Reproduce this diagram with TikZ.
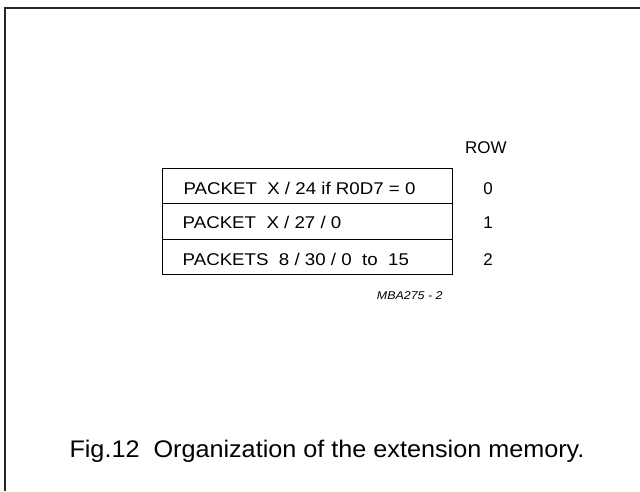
\documentclass[tikz,border=0pt]{standalone}
\usepackage{fontspec}
\setmainfont{Liberation Sans}
\newfontfamily\widesans[FakeStretch=1.1]{Liberation Sans}
\newfontfamily\capsans[FakeStretch=1.05]{Liberation Sans}
\newfontfamily\mbasans[FakeStretch=1.1,UprightFont=* Italic]{Liberation Sans}
\begin{document}
\begin{tikzpicture}[x=1pt,y=-1pt,
  rowbox/.style={draw,line width=1pt,minimum width=290.6pt,minimum height=35.5pt,inner sep=0pt,anchor=north west},
  celltext/.style={anchor=base west,inner sep=0pt,font=\widesans\fontsize{17}{20}\selectfont},
  rownum/.style={anchor=base,inner sep=0pt,font=\fontsize{17}{20}\selectfont},
  framel/.style={line width=1.6pt,draw=black!85}]
\useasboundingbox (0,0) rectangle (640,491);
\coordinate (ftl) at (5,8);
\coordinate (ftr) at (640,8);
\coordinate (fbl) at (5,491);
\draw[framel] (ftr) -- (ftl) -- (fbl);
\node[rowbox] (r0) at (161.7,167.7) {};
\node[rowbox] (r1) at (161.7,203.2) {};
\node[rowbox] (r2) at (161.7,238.7) {};
\node[celltext] (t0) at (183.3,194) {PACKET\ \ X / 24 if R0D7 = 0};
\node[celltext] (t1) at (182.5,228.5) {PACKET\ \ X / 27 / 0};
\node[celltext] (t2) at (182.5,265) {PACKETS\ \ 8 / 30 / 0\ \ to\ \ 15};
\node[anchor=base west,inner sep=0pt,font=\fontsize{17}{20}\selectfont] (row) at (465,153.3) {ROW};
\node[rownum] (n0) at (488,194) {0};
\node[rownum] (n1) at (488,228.5) {1};
\node[rownum] (n2) at (488,265) {2};
\node[anchor=base west,inner sep=0pt,font=\mbasans\fontsize{11.3}{13}\selectfont] (mba) at (376.7,299) {MBA275 - 2};
\node[anchor=base west,inner sep=0pt,font=\capsans\fontsize{24}{28}\selectfont] (cap) at (69.3,457.7) {Fig.12\ \ Organization of the extension memory.};
\end{tikzpicture}
\end{document}
